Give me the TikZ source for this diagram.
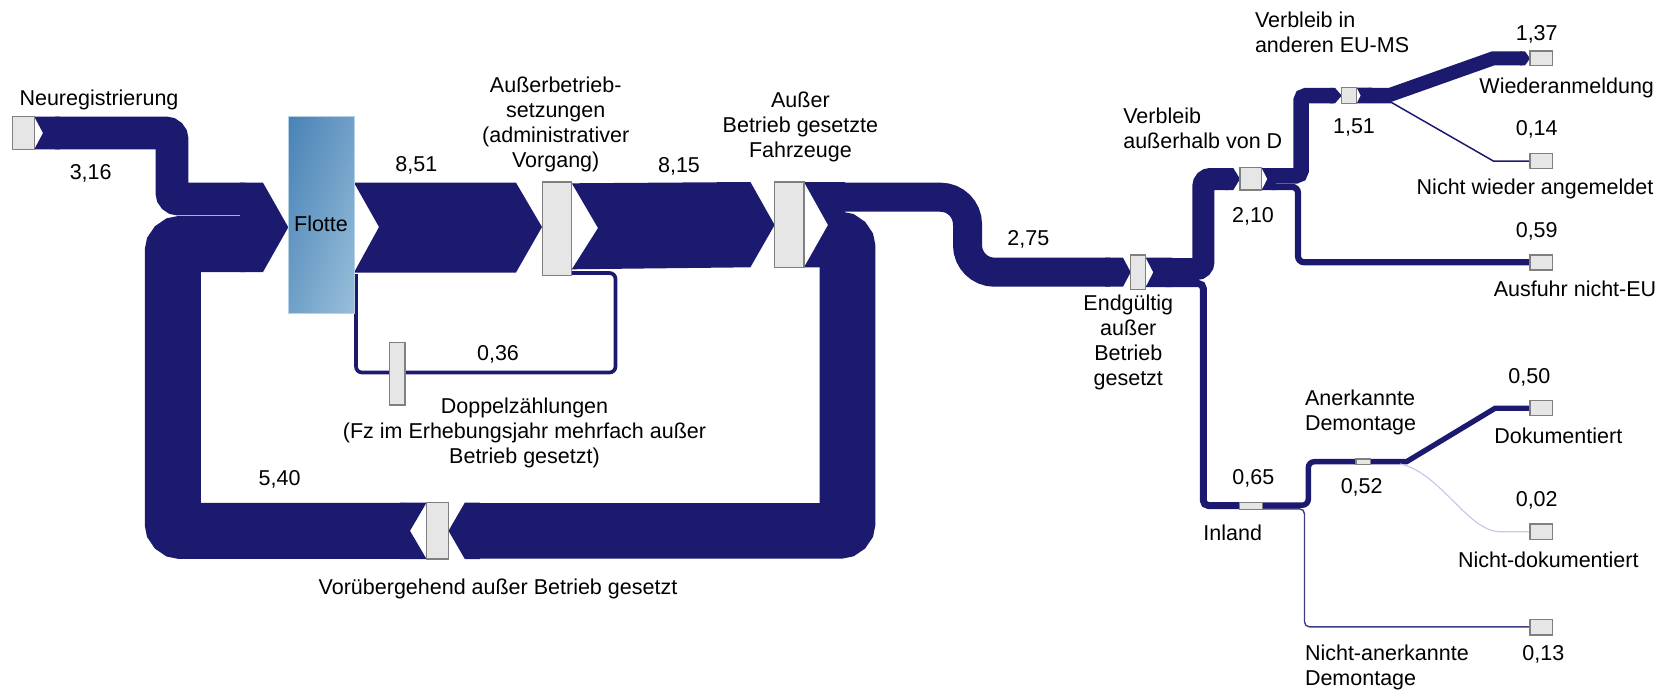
\documentclass[tikz,border=0pt]{standalone}
\usepackage{fontspec}
\setmainfont{Liberation Sans}
\usetikzlibrary{shadings}
\definecolor{navy}{RGB}{28,26,110}
\definecolor{boxfill}{RGB}{230,230,230}
\definecolor{boxline}{RGB}{128,128,128}
\definecolor{flA}{RGB}{72,130,182}
\definecolor{flB}{RGB}{112,160,200}
\definecolor{flC}{RGB}{152,190,218}
\definecolor{lav}{RGB}{200,200,234}
\begin{document}
\begin{tikzpicture}[x=1pt,y=-1pt,
  every node/.style={font=\fontsize{21.5}{25}\selectfont, inner sep=0pt, outer sep=0pt},
  lbl/.style={align=center},
  lbll/.style={align=left, anchor=west},
  box/.style={fill=boxfill, draw=boxline, line width=1.2pt},
  band/.style={draw=navy, line cap=butt, line join=miter},
  rib/.style={fill=navy}]
\useasboundingbox (0,0) rectangle (1670,689);

% ---------- left part ----------
% Neuregistrierung flow 3,16
\fill[rib] (34.3,116.7) -- (60,116.7) -- (60,149.3) -- (34.3,149.3) -- (43,133) -- cycle;
\draw[band, line width=32.6, rounded corners=6] (55,133) -- (172,133) -- (172,199) -- (245,199);
% loop 5,40
\draw[band, line width=56, rounded corners=8] (405,530.8) -- (172.75,530.8) -- (172.75,244) -- (245,244);
\fill[rib] (400,502.7) -- (426.5,502.7) -- (410,530.8) -- (426.5,559) -- (400,559) -- cycle;
% merged arrow into Flotte
\fill[rib] (240,182.7) -- (263,182.7) -- (288.3,227.3) -- (263,272) -- (240,272) -- cycle;
% 8,51
\fill[rib] (354,182.7) -- (516,182.7) -- (542,227) -- (516,272.5) -- (354,272.5) -- (379,227) -- cycle;
% 8,15
\fill[rib] (571.8,183.3) -- (750.4,182) -- (774.6,225) -- (750.4,267.3) -- (571.8,269.3) -- (598,228) -- cycle;
% 0,36
\draw[band, line width=3.7, rounded corners=6] (571,273) -- (615.5,273) -- (615.5,372.5) -- (356,372.5) -- (356,274);
% outflow of Fahrzeuge
\fill[rib] (804,182) -- (845,182) -- (845,267.3) -- (804,267.3) -- (828,225) -- cycle;
\draw[band, line width=55.6, rounded corners=8] (835,239.5) -- (847.5,239.5) -- (847.5,530.8) -- (470,530.8);
\fill[rib] (480,502.7) -- (464.8,502.7) -- (448.5,530.8) -- (464.8,559) -- (480,559) -- cycle;
% 2,75
\draw[band, line width=29, rounded corners=27] (835,197.2) -- (967.5,197.2) -- (967.5,272.2) -- (1110,272.2);
\fill[rib] (1105,257.7) -- (1123,257.7) -- (1130.7,272.2) -- (1123,286.7) -- (1105,286.7) -- cycle;

% ---------- right part ----------
\fill[rib] (1145.7,257.7) -- (1172,257.7) -- (1172,287) -- (1145.7,287) -- (1153.3,272.3) -- cycle;
% 2,10
\draw[band, line width=22, rounded corners=7] (1165,269) -- (1203.4,269) -- (1203.4,179) -- (1228,179);
\fill[rib] (1225,168) -- (1233.3,168) -- (1240,179) -- (1233.3,190) -- (1225,190) -- cycle;
% 0,65
\draw[band, line width=7, rounded corners=5] (1165,283.5) -- (1203.3,283.5) -- (1203.3,505.5) -- (1240,505.5);
% out of Verbleib ausserhalb
\fill[rib] (1261.7,168) -- (1276,168) -- (1276,190) -- (1261.7,190) -- (1267.3,179) -- cycle;
% 1,51
\draw[band, line width=15.5, rounded corners=5] (1272,175.75) -- (1301,175.75) -- (1301,95.6) -- (1333,95.6);
\fill[rib] (1330,87.9) -- (1335,87.9) -- (1341.7,95.6) -- (1335,103.3) -- (1330,103.3) -- cycle;
% 0,59
\draw[band, line width=6.2, rounded corners=6] (1272,186.9) -- (1298,186.9) -- (1298,262.2) -- (1530,262.2);
% out of EU-MS
\fill[rib] (1356.7,87.7) -- (1372,87.7) -- (1372,103.3) -- (1356.7,103.3) -- (1360.7,95.5) -- cycle;
% 1,37
\draw[band, line width=14] (1368,94.9) -- (1390,94.9) -- (1493,58.4) -- (1522,58.4);
\fill[rib] (1520,51.4) -- (1525,51.4) -- (1530,58.4) -- (1525,65.4) -- (1520,65.4) -- cycle;
% 0,14
\draw[navy, line width=1.5] (1372,102.6) -- (1391.7,102.6) -- (1493.3,161) -- (1530,161);
% 0,52
\draw[band, line width=5.5, rounded corners=6] (1262,505.2) -- (1308.3,505.2) -- (1308.3,461.7) -- (1356,461.7);
% 0,13
\draw[navy!85, line width=1.4, rounded corners=5] (1262,508.8) -- (1304.5,508.8) -- (1304.5,626.9) -- (1530,626.9);
% 0,50
\draw[band, line width=5.3] (1370.7,461.6) -- (1406.7,461.6) -- (1495,408.3) -- (1530,408.3);
% 0,02
\draw[lav, line width=1.2] (1400,464) .. controls (1440,472) and (1468,531.7) .. (1500,531.7) -- (1530,531.7);

% ---------- boxes ----------
\node[box, minimum width=22, minimum height=32.6] (neu) at (23.3,133) {};
\node[shade, upper left=flA, upper right=flB, lower left=flB, lower right=flC,
      draw=flC!70, line width=0.6pt, minimum width=65.7, minimum height=196.6] (flotte) at (321.15,215) {};
\node[box, minimum width=29.3, minimum height=93.3] (ausb) at (557.15,228.65) {};
\node[box, minimum width=29.4, minimum height=85.3] (fahr) at (789.3,224.65) {};
\node[box, minimum width=22, minimum height=56.3] (vorue) at (437.5,530.85) {};
\node[box, minimum width=15.5, minimum height=62.5] (doppel) at (397.25,373.75) {};
\node[box, minimum width=15, minimum height=34.3] (endg) at (1138.2,272.15) {};
\node[box, minimum width=21.7, minimum height=22.3] (verbd) at (1250.85,178.85) {};
\node[box, minimum width=15, minimum height=15.6] (eums) at (1349.2,95.5) {};
\node[box, minimum width=23, minimum height=6.6] (inland) at (1250.8,506) {};
\node[box, minimum width=14.7, minimum height=5.3] (anerk) at (1363.35,461.65) {};
\node[box, minimum width=22.3, minimum height=14.7] (wieder) at (1541.15,58.35) {};
\node[box, minimum width=22.3, minimum height=15] (nwieder) at (1541.15,160.8) {};
\node[box, minimum width=22.3, minimum height=15] (ausfuhr) at (1541.15,262.5) {};
\node[box, minimum width=22.3, minimum height=15] (dok) at (1541.15,408.2) {};
\node[box, minimum width=22.3, minimum height=15.3] (ndok) at (1541.15,531.65) {};
\node[box, minimum width=22.3, minimum height=15.7] (nanerk) at (1541.15,627.15) {};

% ---------- labels ----------
\node (tneu) at (99,100) {Neuregistrierung};
\node (t316) at (90.7,173) {3,16};
\node (tflotte) at (321,224) {Flotte};
\node (t851) at (416.4,165.5) {8,51};
\node[lbl] (tausb) at (555.7,124.5) {Außerbetrieb-\\setzungen\\(administrativer\\Vorgang)};
\node (t815) at (679,166.5) {8,15};
\node[lbl] (tfahr) at (800.4,126.5) {Außer\\Betrieb gesetzte\\Fahrzeuge};
\node (t036) at (498,354.5) {0,36};
\node[lbl] (tdoppel) at (524.5,432.5) {Doppelzählungen\\(Fz im Erhebungsjahr mehrfach außer\\Betrieb gesetzt)};
\node (t540) at (279.6,479) {5,40};
\node (tvorue) at (498,588.5) {Vorübergehend außer Betrieb gesetzt};
\node (t275) at (1028.3,239.5) {2,75};
\node[lbll] (tverbd) at (1123.3,128.5) {Verbleib\\außerhalb von D};
\node[lbl] (tendg) at (1128.3,342.5) {Endgültig\\außer\\Betrieb\\gesetzt};
\node (t210) at (1253,216.5) {2,10};
\node[lbll] (teums) at (1255,32) {Verbleib in\\anderen EU-MS};
\node (t151) at (1354,127.5) {1,51};
\node (t137) at (1536.7,34.5) {1,37};
\node (twieder) at (1566.7,88) {Wiederanmeldung};
\node (t014) at (1536.7,129.5) {0,14};
\node (tnwieder) at (1535,188.5) {Nicht wieder angemeldet};
\node (t059) at (1536.7,231.5) {0,59};
\node (tausfuhr) at (1575,289) {Ausfuhr nicht-EU};
\node (t050) at (1529.3,377.5) {0,50};
\node[lbll] (tanerk) at (1305,412.5) {Anerkannte\\Demontage};
\node (tdok) at (1558.3,435.5) {Dokumentiert};
\node (t065) at (1253.3,478.5) {0,65};
\node (t052) at (1361.7,487.5) {0,52};
\node (t002) at (1536.7,500.5) {0,02};
\node (tinland) at (1232.7,533) {Inland};
\node (tndok) at (1548.3,560) {Nicht-dokumentiert};
\node[lbll] (tnanerk) at (1305,667.5) {Nicht-anerkannte\\Demontage};
\node (t013) at (1543.3,654) {0,13};
\end{tikzpicture}
\end{document}
